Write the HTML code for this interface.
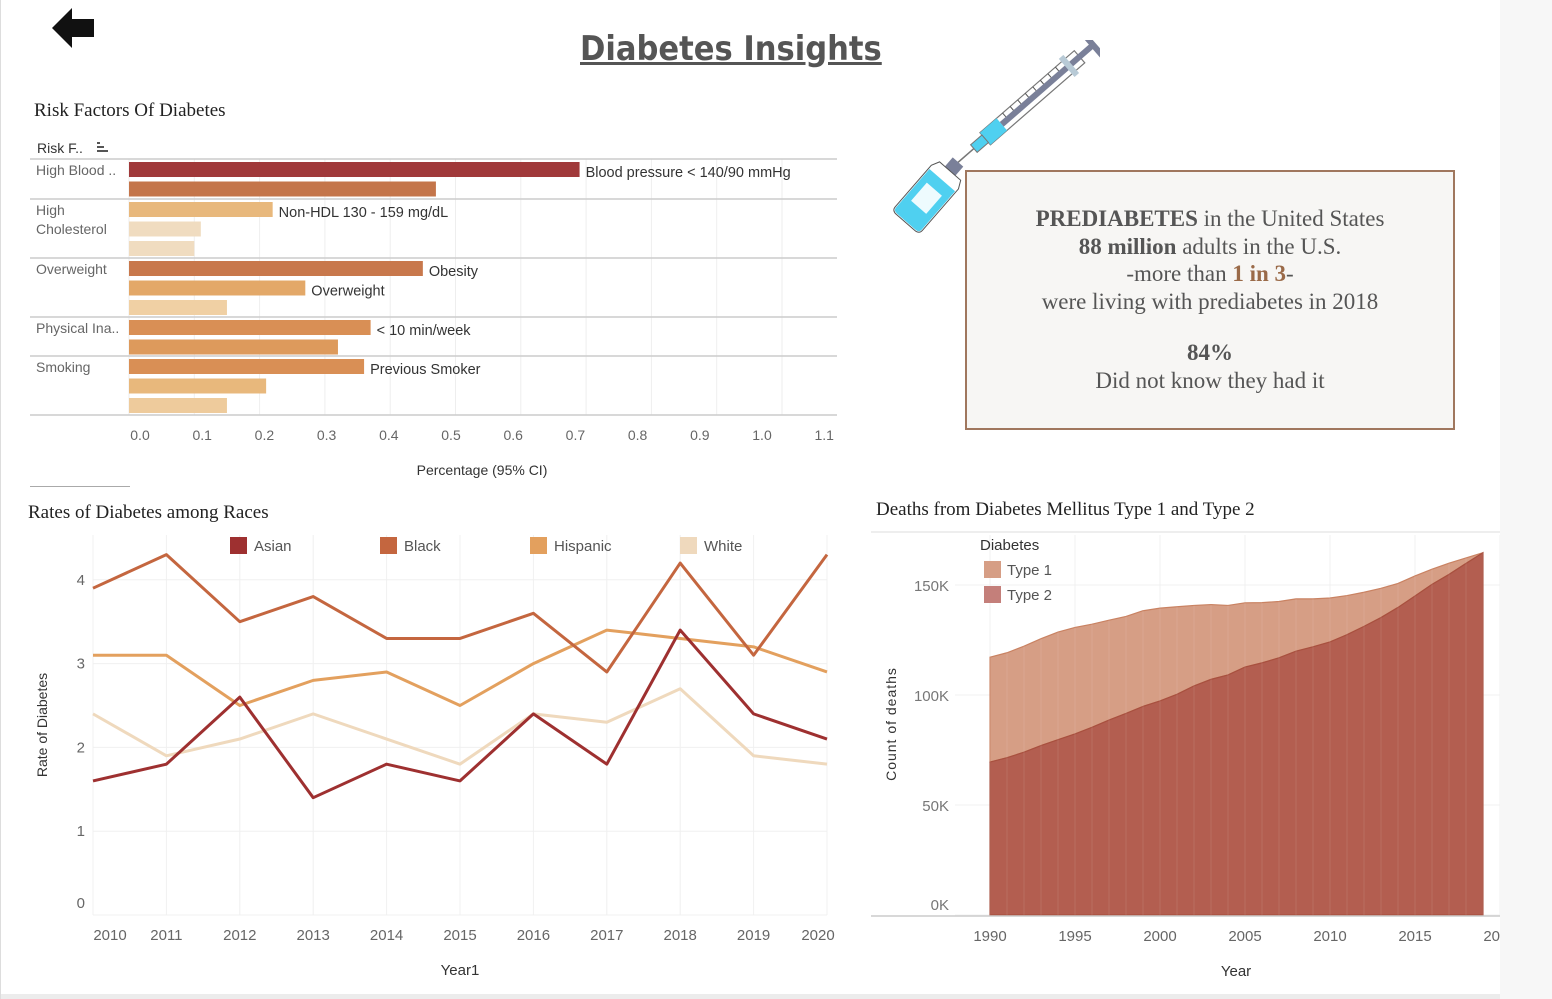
<!DOCTYPE html>
<html><head><meta charset="utf-8">
<style>
html,body{margin:0;padding:0;}
body{width:1552px;height:999px;position:relative;background:#fff;font-family:"Liberation Sans",sans-serif;overflow:hidden;}
.abs{position:absolute;}
.serif{font-family:"Liberation Serif",serif;}
</style></head><body>
<div class="abs" style="left:0;top:994px;width:1552px;height:5px;background:#ececec"></div>
<div class="abs" style="left:0;top:0;width:1px;height:999px;background:#ddd"></div>

<svg class="abs" style="left:52px;top:8px" width="44" height="40" viewBox="0 0 44 40"><path d="M0 20 L20 0 L20 11 L42 11 L42 29 L20 29 L20 40 Z" fill="#111"/></svg>

<div class="abs" style="left:580px;top:29px;font-size:34px;font-weight:bold;color:#555;text-decoration:underline;font-family:'DejaVu Sans Condensed','Liberation Sans',sans-serif;">Diabetes Insights</div>

<div class="abs serif" style="left:34px;top:100px;font-size:19px;color:#222">Risk Factors Of Diabetes</div>
<div class="abs serif" style="left:28px;top:502px;font-size:19px;color:#222">Rates of Diabetes among Races</div>
<div class="abs serif" style="left:876px;top:499px;font-size:19px;color:#222">Deaths from Diabetes Mellitus Type 1 and Type 2</div>
<div class="abs" style="left:30px;top:486px;width:100px;height:1px;background:#aaa"></div>

<!-- Syringe -->
<svg class="abs" style="left:880px;top:40px" width="220" height="200" viewBox="0 0 220 200">
 <g transform="translate(75,125) rotate(-41)">
  <rect x="40" y="-8" width="125" height="16" fill="#fff" stroke="#777" stroke-width="1.2"/>
  <rect x="40" y="-8" width="22" height="16" fill="#4fd0f0"/>
  <rect x="62" y="-3" width="122" height="6" fill="#7a8099"/>
  <rect x="180" y="-14" width="6" height="28" fill="#7a8099"/>
  <rect x="148" y="-12" width="6" height="24" fill="#b8cad6"/>
  <rect x="25" y="-5" width="15" height="10" fill="#4fd0f0" stroke="#777"/>
  <line x1="0" y1="0" x2="25" y2="0" stroke="#777" stroke-width="1.5"/>
  <g stroke="#555" stroke-width="1"><line x1="70" y1="-8" x2="70" y2="-3"/><line x1="80" y1="-8" x2="80" y2="-3"/><line x1="90" y1="-8" x2="90" y2="-3"/><line x1="100" y1="-8" x2="100" y2="-3"/><line x1="110" y1="-8" x2="110" y2="-3"/><line x1="120" y1="-8" x2="120" y2="-3"/><line x1="130" y1="-8" x2="130" y2="-3"/><line x1="140" y1="-8" x2="140" y2="-3"/></g>
 </g>
 <g transform="translate(78,122) rotate(131)">
  <rect x="0" y="-7" width="12" height="14" fill="#7a8099"/>
  <path d="M12 -14 L20 -18 L75 -18 Q80 -18 80 -12 L80 12 Q80 18 75 18 L20 18 L12 14 Z" fill="#fff" stroke="#555" stroke-width="1"/>
  <path d="M24 -17 L75 -17 Q79 -17 79 -12 L79 12 Q79 17 75 17 L24 17 Z" fill="#4fd0f0"/>
  <rect x="36" y="-10" width="24" height="20" fill="#fff" opacity="0.9"/>
 </g>
</svg>

<div class="abs serif" style="left:965px;top:170px;width:486px;height:256px;border:2px solid #a0775e;background:#f7f6f4;text-align:center;color:#555;font-size:23px;line-height:27.5px">
 <div style="height:33px"></div>
 <div><b>PREDIABETES</b> in the United States</div>
 <div><b>88 million</b> adults in the U.S.</div>
 <div>-more than <b style="color:#9a6a48">1 in 3</b>-</div>
 <div>were living with prediabetes in 2018</div>
 <div style="height:24px"></div>
 <div><b>84%</b></div>
 <div>Did not know they had it</div>
</div>

<svg class="abs" id="bar" style="left:0;top:130px" width="860" height="360"></svg>
<svg class="abs" id="line" style="left:0;top:525px" width="860" height="470"></svg>
<svg class="abs" id="area" style="left:860px;top:525px" width="640" height="470"></svg>
<div class="abs" style="left:1500px;top:0;width:52px;height:999px;background:#f7f7f7"></div>

<script>
const barGroups = ["High Blood ..","High|Cholesterol","Overweight","Physical Ina..","Smoking"];
const barValues = [[0.69,0.47],[0.22,0.11,0.10],[0.45,0.27,0.15],[0.37,0.32],[0.36,0.21,0.15]];
const barLabels = [["Blood pressure < 140/90 mmHg",""],["Non-HDL 130 - 159 mg/dL","",""],["Obesity","Overweight",""],["< 10 min/week",""],["Previous Smoker","",""]];
const barColors = [["#a0393a","#c4754a"],["#e8b87c","#f0dcc0","#f0dcc0"],["#c8784c","#e3a868","#f0d0a4"],["#d98f55","#dd9a5c"],["#d98f55","#e8b87c","#eecb9c"]];
const barTicks = [0,0.1,0.2,0.3,0.4,0.5,0.6,0.7,0.8,0.9,1.0,1.1];

const years = [2010,2011,2012,2013,2014,2015,2016,2017,2018,2019,2020];
const asian =    [1.6,1.8,2.6,1.4,1.8,1.6,2.4,1.8,3.4,2.4,2.1];
const black =    [3.9,4.3,3.5,3.8,3.3,3.3,3.6,2.9,4.2,3.1,4.3];
const hispanic = [3.1,3.1,2.5,2.8,2.9,2.5,3.0,3.4,3.3,3.2,2.9];
const white =    [2.4,1.9,2.1,2.4,2.1,1.8,2.4,2.3,2.7,1.9,1.8];
const raceNames = ["Asian","Black","Hispanic","White"];
const yTicks = [0,1,2,3,4];

const dYears = [1990,1991,1992,1993,1994,1995,1996,1997,1998,1999,2000,2001,2002,2003,2004,2005,2006,2007,2008,2009,2010,2011,2012,2013,2014,2015,2016,2017,2018,2019];
const type2 = [69.5,71.5,74.0,77.0,79.7,82.3,85.3,88.6,91.6,94.8,97.3,100.3,104.1,107.1,109.1,112.7,114.6,116.9,119.9,121.9,124.1,127.4,131.2,135.2,139.8,145.0,150.3,154.8,159.8,164.7];
const type1 = [47.7,47.7,48.2,48.6,48.9,48.4,46.9,45.4,44.1,43.5,42.2,39.8,36.6,34.0,31.6,29.2,27.4,25.6,23.8,21.8,20.0,17.8,15.5,13.3,10.9,9.1,6.9,5.1,2.5,0.0];
const dTicks = [0,50,100,150];
const dXTicks = [1990,1995,2000,2005,2010,2015,2020];

const NS="http://www.w3.org/2000/svg";
function mk(parent,tag,attrs,text){const e=document.createElementNS(NS,tag);for(const k in attrs)e.setAttribute(k,attrs[k]);if(text!==undefined)e.textContent=text;parent.appendChild(e);return e;}

(function(){
 const s=document.getElementById('bar'); const oy=130;
 const x=v=>129+v*653;
 const t=mk(s,'text',{x:37,y:153-oy,'font-size':14,fill:'#333'},'Risk F..');
 
 const sic=mk(s,'g',{});
 mk(sic,'rect',{x:97,y:142-oy,width:3,height:2,fill:'#555'});mk(sic,'rect',{x:97,y:146-oy,width:7,height:2,fill:'#555'});mk(sic,'rect',{x:97,y:150-oy,width:11,height:2,fill:'#555'});
 barTicks.forEach((v,i)=>{
  if(x(v)<837){const g=mk(s,'line',{x1:x(v),x2:x(v),y1:159-oy,y2:415-oy,stroke:'#eee'});
  }
  const l=mk(s,'text',{x:140+i*62.2,y:440-oy,'font-size':14,fill:'#666','text-anchor':'middle'},v.toFixed(1));
  
 });
 const seps=[159,199,258,317,356,415];
 seps.forEach(y=>{const l=mk(s,'line',{x1:30,x2:837,y1:y-oy,y2:y-oy,stroke:'#ccc','stroke-width':1.5});});
 let y=162;
 barGroups.forEach((gname,gi)=>{
  const parts=gname.split('|');
  parts.forEach((p,pi)=>{const lt=mk(s,'text',{x:36,y:seps[gi]+16+pi*19-oy,'font-size':14,fill:'#666'},p);});
  y=seps[gi]+3;
  barValues[gi].forEach((v,bi)=>{
   const r=mk(s,'rect',{x:129,y:y-oy,width:x(v)-129,height:15,fill:barColors[gi][bi]});
   
   if(barLabels[gi][bi]){const bl=mk(s,'text',{x:x(v)+6,y:y+15-oy,'font-size':14.5,fill:'#333'},barLabels[gi][bi]);}
   y+=19.5;
  });
 });
 const xt=mk(s,'text',{x:482,y:475-oy,'font-size':14,fill:'#333','text-anchor':'middle'},'Percentage (95% CI)');
 
})();

(function(){
 const s=document.getElementById('line'); const oy=525;
 const x=yr=>93+(yr-2010)*73.4;
 const y=v=>915-83.8*v-oy;
 years.forEach(yr=>{const g=mk(s,'line',{x1:x(yr),x2:x(yr),y1:535-oy,y2:915-oy,stroke:'#f0f0f0'});
  const l=mk(s,'text',{x:x(yr)+(yr===2010?17:yr===2020?-9:0),y:940-oy,'font-size':15,fill:'#666','text-anchor':'middle'},yr);});
 yTicks.forEach(v=>{const g=mk(s,'line',{x1:93,x2:827,y1:y(v),y2:y(v),stroke:'#f0f0f0'});
  const l=mk(s,'text',{x:85,y:(v===0?908:y(v)+oy+5)-oy,'font-size':15,fill:'#666','text-anchor':'end'},v);});
 const series=[asian,black,hispanic,white];
 const cols=["#9e3030","#c4663f","#e3a05e","#efd9bd"];
 [3,2,1,0].forEach(i=>{
  const d=series[i].map((v,j)=>(j?'L':'M')+x(years[j])+' '+y(v)).join(' ');
  const p=mk(s,'path',{d:d,fill:'none',stroke:cols[i],'stroke-width':3,'stroke-linejoin':'round'});
  
 });
 raceNames.forEach((n,i)=>{
  const g=mk(s,'g',{});
  mk(g,'rect',{x:230+i*150,y:537-oy,width:17,height:17,fill:cols[i]});
  mk(g,'text',{x:254+i*150,y:551-oy,'font-size':15,fill:'#555'},n);
 });
 const yt=mk(s,'text',{x:0,y:0,'font-size':14,fill:'#333','text-anchor':'middle',transform:'translate(47,'+(725-oy)+') rotate(-90)'},'Rate of Diabetes');
 
 const xt=mk(s,'text',{x:460,y:975-oy,'font-size':15,fill:'#333','text-anchor':'middle'},'Year1');
 
})();

(function(){
 const s=document.getElementById('area'); const ox=860, oy=525;
 const x=yr=>990+(yr-1990)*17-ox;
 const y=v=>915-2.2*v-oy;
 const tl=mk(s,'line',{x1:871-ox,x2:1500-ox,y1:532-oy,y2:532-oy,stroke:'#ddd'});
 dTicks.forEach(v=>{const g=mk(s,'line',{x1:955-ox,x2:1500-ox,y1:y(v),y2:y(v),stroke:'#f0f0f0'});
  const l=mk(s,'text',{x:949-ox,y:(v===0?910:y(v)+oy+6)-oy,'font-size':15,fill:'#777','text-anchor':'end'},v+'K');});
 dXTicks.forEach(v=>{const g=mk(s,'line',{x1:x(v),x2:x(v),y1:535-oy,y2:915-oy,stroke:'#f0f0f0'});
  const l=mk(s,'text',{x:x(v),y:941-oy,'font-size':15,fill:'#666','text-anchor':'middle'},v);});
 const tops=type2.map((v,i)=>v+type1[i]);
 const n=dYears.length;
 let d1='M'+x(dYears[0])+' '+y(type2[0]);
 for(let i=0;i<n;i++)d1+=' L'+x(dYears[i])+' '+y(tops[i]);
 for(let i=n-1;i>=0;i--)d1+=' L'+x(dYears[i])+' '+y(type2[i]);
 const a1=mk(s,'path',{d:d1+'Z',fill:'#d69e85',stroke:'#c98262','stroke-width':1.2});
 
 let d2='M'+x(dYears[0])+' '+y(0);
 for(let i=0;i<n;i++)d2+=' L'+x(dYears[i])+' '+y(type2[i]);
 d2+=' L'+x(dYears[n-1])+' '+y(0)+'Z';
 const a2=mk(s,'path',{d:d2,fill:'#b35e50',stroke:'#a8503f','stroke-width':1.2});
 
 dYears.forEach((yr,i)=>{const l=mk(s,'line',{x1:x(yr),x2:x(yr),y1:y(0),y2:y(tops[i]),stroke:'#fff','stroke-opacity':0.1});});
 const bl=mk(s,'line',{x1:871-ox,x2:1500-ox,y1:916-oy,y2:916-oy,stroke:'#ccc','stroke-width':1.5});
 const lt=mk(s,'text',{x:980-ox,y:550-oy,'font-size':15,fill:'#333'},'Diabetes');
 [['Type 1','#d69e85'],['Type 2','#c47f7a']].forEach((e,i)=>{const g=mk(s,'g',{});
  mk(g,'rect',{x:984-ox,y:561+i*25-oy,width:17,height:17,fill:e[1]});mk(g,'text',{x:1007-ox,y:575+i*25-oy,'font-size':15,fill:'#555'},e[0]);});
 const yt=mk(s,'text',{x:0,y:0,'font-size':14,fill:'#333','text-anchor':'middle','letter-spacing':'1',transform:'translate('+(896-ox)+','+(724-oy)+') rotate(-90)'},'Count of deaths');
 
 const xt=mk(s,'text',{x:1236-ox,y:976-oy,'font-size':15,fill:'#333','text-anchor':'middle'},'Year');
 
})();
</script>
</body></html>
